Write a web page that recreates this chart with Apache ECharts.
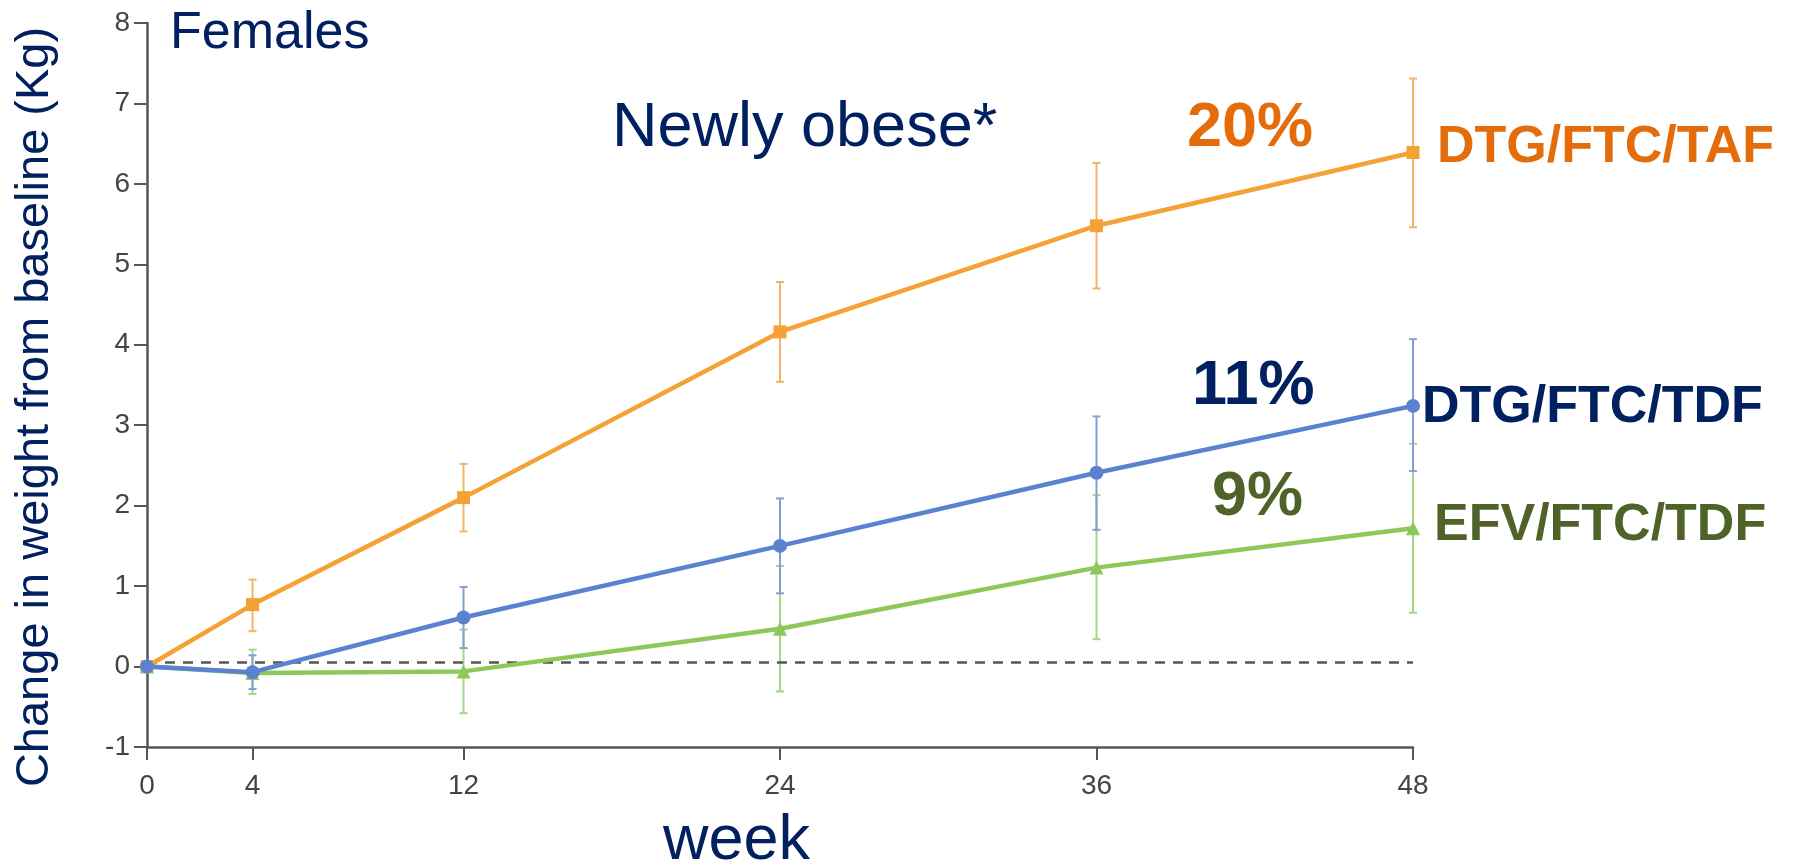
<!DOCTYPE html>
<html>
<head>
<meta charset="utf-8">
<script src="https://cdn.jsdelivr.net/npm/echarts@6/dist/echarts.min.js"></script>
<style>
  html, body { margin: 0; padding: 0; background: #ffffff; }
  #chart { width: 1795px; height: 868px; }
</style>
</head>
<body>
<div id="chart"></div>
<script>
// Visit weeks and tick positions on the x axis
const weeks = [0, 4, 12, 24, 36, 48];
const weekTicks = [0, 4, 12, 24, 36, 48];

// DTG/FTC/TAF: mean change in weight (kg) with 95% CI bounds
const tafMean = [0, 0.77, 2.10, 4.16, 5.48, 6.39];
const tafLow  = [0, 0.44, 1.68, 3.54, 4.70, 5.46];
const tafHigh = [0, 1.08, 2.52, 4.78, 6.26, 7.31];

// DTG/FTC/TDF
const tdfMean = [0, -0.07, 0.61, 1.50, 2.41, 3.24];
const tdfLow  = [0, -0.28, 0.23, 0.91, 1.70, 2.43];
const tdfHigh = [0, 0.14, 0.99, 2.09, 3.11, 4.07];

// EFV/FTC/TDF
const efvMean = [0, -0.08, -0.06, 0.47, 1.23, 1.72];
const efvLow  = [0, -0.34, -0.58, -0.31, 0.34, 0.67];
const efvHigh = [0, 0.21, 0.46, 1.25, 2.13, 2.77];

// Reference line near no change
const baselineRef = 0.05;

const NAVY = '#002060';
const ORANGE_TXT = '#E46C0A';
const OLIVE = '#4F6228';
const SANS = '"Liberation Sans", Arial, sans-serif';
const TICK_FONT = '"Liberation Sans", Arial, sans-serif';

const pairs = (xs, ys) => xs.map((x, i) => [x, ys[i]]);
const ciRows = (xs, lo, hi) => xs.map((x, i) => [x, lo[i], hi[i]]).filter(r => r[1] !== r[2]);

// Vertical error bar with small caps at both ends
function errorBar(color) {
  return function (params, api) {
    const x = api.value(0);
    const top = api.coord([x, api.value(2)]);
    const bot = api.coord([x, api.value(1)]);
    const cap = 4;
    const style = { stroke: color, lineWidth: 2, fill: null };
    return {
      type: 'group',
      children: [
        { type: 'line', shape: { x1: top[0], y1: top[1], x2: bot[0], y2: bot[1] }, style },
        { type: 'line', shape: { x1: top[0] - cap, y1: top[1], x2: top[0] + cap, y2: top[1] }, style },
        { type: 'line', shape: { x1: bot[0] - cap, y1: bot[1], x2: bot[0] + cap, y2: bot[1] }, style }
      ]
    };
  };
}

function lineSeries(name, xs, ys, color, symbol, size) {
  return {
    name, type: 'line', data: pairs(xs, ys),
    symbol, symbolSize: size, z: 5,
    lineStyle: { color, width: 4.5 },
    itemStyle: { color },
    emphasis: { disabled: true }
  };
}

function ciSeries(xs, lo, hi, color) {
  return {
    type: 'custom', data: ciRows(xs, lo, hi),
    encode: { x: 0, y: [1, 2] },
    renderItem: errorBar(color), z: 3, silent: true
  };
}

function txt(text, x, y, size, color, weight, extra) {
  return Object.assign({
    type: 'text', x, y, silent: true,
    style: {
      text, fill: color,
      font: (weight || 'normal') + ' ' + size + 'px ' + SANS,
      textAlign: 'left', textVerticalAlign: 'middle'
    }
  }, extra || {});
}

const chart = echarts.init(document.getElementById('chart'), null, { renderer: 'canvas' });

chart.setOption({
  animation: false,
  backgroundColor: '#ffffff',
  grid: { left: 147, right: 382, top: 23, bottom: 121 },
  xAxis: {
    type: 'value', min: 0, max: 48,
    axisLine: { onZero: false, lineStyle: { color: '#555555', width: 2.5 } },
    axisTick: { customValues: weekTicks, length: 13, lineStyle: { color: '#555555', width: 2 } },
    axisLabel: { customValues: weekTicks, margin: 25, color: '#444444', fontSize: 28, fontFamily: TICK_FONT },
    splitLine: { show: false }
  },
  yAxis: {
    type: 'value', min: -1, max: 8, interval: 1,
    axisLine: { show: true, onZero: false, lineStyle: { color: '#555555', width: 2.5 } },
    axisTick: { show: true, length: 13, lineStyle: { color: '#555555', width: 2 } },
    axisLabel: { margin: 17, color: '#444444', fontSize: 28, fontFamily: TICK_FONT },
    splitLine: { show: false }
  },
  series: [
    ciSeries(weeks, tafLow, tafHigh, '#F2B468'),
    ciSeries(weeks, efvLow, efvHigh, '#A8D585'),
    ciSeries(weeks, tdfLow, tdfHigh, '#859FD6'),
    Object.assign(lineSeries('DTG/FTC/TAF', weeks, tafMean, '#F4A236', 'rect', 13), {
      markLine: {
        silent: true, symbol: 'none', label: { show: false },
        lineStyle: { color: '#555555', width: 2.5, type: [10, 8] },
        data: [{ yAxis: baselineRef }]
      }
    }),
    lineSeries('EFV/FTC/TDF', weeks, efvMean, '#8DC95A', 'triangle', 14),
    lineSeries('DTG/FTC/TDF', weeks, tdfMean, '#5A82CF', 'circle', 14)
  ],
  graphic: [
    txt('Change in weight from baseline (Kg)', 35, 407, 47, NAVY, 'normal',
        { rotation: Math.PI / 2, style: { text: 'Change in weight from baseline (Kg)', fill: NAVY,
          font: 'normal 47px ' + SANS, textAlign: 'center', textVerticalAlign: 'middle' } }),
    txt('Females', 170, 34, 52, NAVY),
    txt('Newly obese*', 612, 129, 63, NAVY),
    txt('20%', 1187, 129, 63, ORANGE_TXT, 'bold'),
    txt('11%', 1192, 387, 63, NAVY, 'bold'),
    txt('9%', 1212, 498, 63, OLIVE, 'bold'),
    txt('DTG/FTC/TAF', 1437, 148, 52, ORANGE_TXT, 'bold'),
    txt('DTG/FTC/TDF', 1422, 408, 52, NAVY, 'bold'),
    txt('EFV/FTC/TDF', 1434, 526, 52, OLIVE, 'bold'),
    txt('week', 663, 842, 63, NAVY)
  ]
});
</script>
</body>
</html>
